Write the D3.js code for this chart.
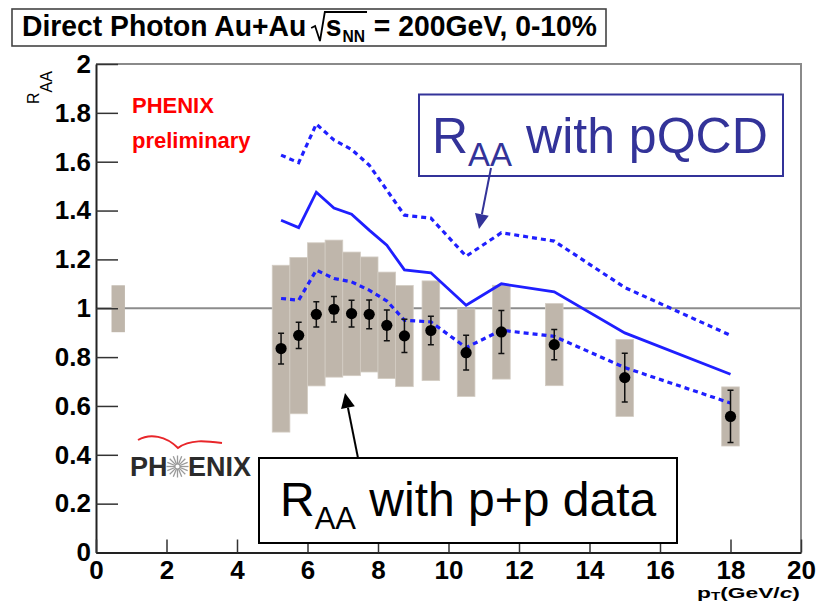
<!DOCTYPE html>
<html>
<head>
<meta charset="utf-8">
<script src="https://cdn.jsdelivr.net/npm/d3@7"></script>
<style>
  html, body { margin: 0; padding: 0; background: #fff; }
  svg { display: block; }
  text { font-family: "Liberation Sans", Arial, Helvetica, sans-serif; }
</style>
</head>
<body>
<svg id="chart" width="827" height="603"></svg>
<script>
// Direct photon R_AA, Au+Au at 200 GeV, 0-10% centrality
const ptBins      = [5.25, 5.75, 6.25, 6.75, 7.25, 7.75, 8.25, 8.75, 9.5, 10.5, 11.5, 13, 15, 18];
const raaValues   = [0.835, 0.889, 0.975, 0.996, 0.978, 0.975, 0.930, 0.887, 0.909, 0.818, 0.903, 0.851, 0.716, 0.557];
const statErrors  = [0.063, 0.054, 0.052, 0.052, 0.055, 0.059, 0.063, 0.068, 0.058, 0.071, 0.088, 0.062, 0.100, 0.107];
const sysLow      = [0.493, 0.568, 0.682, 0.718, 0.724, 0.739, 0.712, 0.679, 0.704, 0.639, 0.710, 0.683, 0.557, 0.436];
const sysHigh     = [1.176, 1.208, 1.268, 1.279, 1.230, 1.210, 1.148, 1.093, 1.112, 0.997, 1.094, 1.019, 0.872, 0.678];
const sysHalfWidth = 0.25;

// R_AA computed with a pQCD reference (central value and scale band)
const pqcdCentral = [1.360, 1.330, 1.475, 1.410, 1.385, 1.320, 1.258, 1.157, 1.145, 1.012, 1.100, 1.067, 0.899, 0.730];
const pqcdUpper   = [1.627, 1.596, 1.754, 1.689, 1.650, 1.586, 1.484, 1.381, 1.369, 1.213, 1.309, 1.275, 1.085, 0.889];
const pqcdLower   = [1.040, 1.033, 1.156, 1.122, 1.108, 1.074, 1.030, 0.951, 0.944, 0.839, 0.910, 0.885, 0.757, 0.612];

// Overall normalisation uncertainty drawn at unity
const normBox = { pt: 0.63, halfWidth: 0.19, low: 0.902, high: 1.094 };

const xTicks = [0, 2, 4, 6, 8, 10, 12, 14, 16, 18, 20];
const yTicks = [0, 0.2, 0.4, 0.6, 0.8, 1, 1.2, 1.4, 1.6, 1.8, 2];

const svg = d3.select("#chart");
const x = d3.scaleLinear().domain([0, 20]).range([96, 801]);
const y = d3.scaleLinear().domain([0, 2]).range([552.5, 64]);

const BLUE = "#1f1fff";
const NAVY = "#333399";
const BOXFILL = "#bfb6ab";

// ---- frame (top / right) ----
svg.append("path")
  .attr("d", `M${x(0)},${y(2)}H${x(20)}V${y(0)}`)
  .attr("fill", "none").attr("stroke", "#8a8a8a").attr("stroke-width", 2);

// ---- reference line at R_AA = 1 ----
svg.append("line")
  .attr("x1", x(0)).attr("x2", x(20))
  .attr("y1", y(1)).attr("y2", y(1))
  .attr("stroke", "#8c8c8c").attr("stroke-width", 2);

// ---- normalisation box ----
svg.append("rect")
  .attr("x", x(normBox.pt - normBox.halfWidth))
  .attr("width", x(normBox.pt + normBox.halfWidth) - x(normBox.pt - normBox.halfWidth))
  .attr("y", y(normBox.high))
  .attr("height", y(normBox.low) - y(normBox.high))
  .attr("fill", BOXFILL);

// ---- systematic boxes ----
svg.append("g").selectAll("rect")
  .data(ptBins)
  .join("rect")
  .attr("x", d => x(d - sysHalfWidth))
  .attr("width", d => x(d + sysHalfWidth) - x(d - sysHalfWidth))
  .attr("y", (d, i) => y(sysHigh[i]))
  .attr("height", (d, i) => y(sysLow[i]) - y(sysHigh[i]))
  .attr("fill", BOXFILL)
  .attr("stroke", "#d3ccc3").attr("stroke-width", 0.8);

// ---- pQCD curves ----
const curve = d3.line().x(d => x(d[0])).y(d => y(d[1]));
const series = [
  { vals: pqcdUpper,   dash: "5,4" },
  { vals: pqcdCentral, dash: null },
  { vals: pqcdLower,   dash: "5,4" }
];
series.forEach(s => {
  svg.append("path")
    .datum(ptBins.map((p, i) => [p, s.vals[i]]))
    .attr("d", curve)
    .attr("fill", "none")
    .attr("stroke", BLUE)
    .attr("stroke-width", s.dash ? 3.2 : 2.8)
    .attr("stroke-dasharray", s.dash);
});

// ---- statistical error bars and points ----
const pts = svg.append("g");
ptBins.forEach((p, i) => {
  const cx = x(p);
  const yt = y(raaValues[i] + statErrors[i]);
  const yb = y(raaValues[i] - statErrors[i]);
  pts.append("path")
    .attr("d", `M${cx},${yt}V${yb}M${cx - 3},${yt}H${cx + 3}M${cx - 3},${yb}H${cx + 3}`)
    .attr("fill", "none").attr("stroke", "#111").attr("stroke-width", 1.5);
});
pts.selectAll("circle")
  .data(ptBins)
  .join("circle")
  .attr("cx", d => x(d))
  .attr("cy", (d, i) => y(raaValues[i]))
  .attr("r", 5.6)
  .attr("fill", "#000");

// ---- axes ----
const fmt = d => d3.format("~g")(d);
const yMinor = d3.range(0, 2.0001, 0.05).filter(v => Math.abs(v * 5 - Math.round(v * 5)) > 1e-6);
const xMinor = d3.range(0, 20.001, 0.5).filter(v => Math.abs(v / 2 - Math.round(v / 2)) > 1e-6);

const gy = svg.append("g").attr("transform", `translate(${x(0)},0)`);
gy.call(d3.axisLeft(y).tickValues(yMinor).tickSize(-11).tickSizeOuter(0).tickFormat(""));
gy.call(d3.axisLeft(y).tickValues(yTicks).tickSize(-22).tickSizeOuter(0).tickPadding(5).tickFormat(fmt));

const gx = svg.append("g").attr("transform", `translate(0,${y(0)})`);
gx.call(d3.axisBottom(x).tickValues(xMinor).tickSize(-6.5).tickSizeOuter(0).tickFormat(""));
gx.call(d3.axisBottom(x).tickValues(xTicks).tickSize(-13).tickSizeOuter(0).tickPadding(8.5).tickFormat(fmt));

[gx, gy].forEach(g => {
  g.selectAll(".domain").attr("stroke", "#222").attr("stroke-width", 2);
  g.selectAll(".tick line").attr("stroke", "#333").attr("stroke-width", 1.5);
  g.selectAll(".tick text")
    .attr("fill", "#000")
    .style("font-size", "26px")
    .style("font-weight", "bold")
    .style("font-family", '"Liberation Sans", Arial, Helvetica, sans-serif');
});

// ---- axis titles ----
const yTitle = svg.append("text")
  .attr("transform", "translate(38.5,104) rotate(-90)")
  .attr("fill", "#000")
  .style("font-size", "16px");
yTitle.append("tspan").text("R");
yTitle.append("tspan").attr("dy", 13).style("font-size", "16px").text("AA");

const xTitle = svg.append("text")
  .attr("x", 697).attr("y", 598.5)
  .attr("fill", "#000")
  .style("font-size", "15px").style("font-weight", "bold");
xTitle.append("tspan").text("p");
xTitle.append("tspan").attr("dy", 2).style("font-size", "10px").text("T");
xTitle.append("tspan").attr("dy", -2).text("(GeV/");
xTitle.append("tspan").style("font-style", "italic").text("c");
xTitle.append("tspan").text(")");
{
  const w = xTitle.node().getComputedTextLength();
  xTitle.attr("transform", `translate(697,0) scale(${103 / w},1) translate(-697,0)`);
}

// ---- title box ----
svg.append("rect")
  .attr("x", 12).attr("y", 9).attr("width", 594).attr("height", 37)
  .attr("fill", "#fff").attr("stroke", "#444").attr("stroke-width", 1.6);

const tg = svg.append("g");
const tStyle = sel => sel.attr("fill", "#000").style("font-weight", "bold").style("font-size", "29px");
const t1 = tg.append("text").attr("x", 0).attr("y", 0).call(tStyle).text("Direct Photon Au+Au");
const w1 = t1.node().getComputedTextLength();
const radX = w1 + 5;
const sX = radX + 15;
const tS = tg.append("text").attr("x", sX).attr("y", 0).call(tStyle).text("s");
const wS = tS.node().getComputedTextLength();
const tNN = tg.append("text").attr("x", sX + wS + 1).attr("y", 6).call(tStyle).style("font-size", "16px").text("NN");
const wNN = tNN.node().getComputedTextLength();
const barEnd = sX + wS + 1 + wNN + 2;
const t3 = tg.append("text").attr("x", barEnd + 7).attr("y", 0).call(tStyle).text("= 200GeV, 0-10%");
const total = barEnd + 7 + t3.node().getComputedTextLength();
tg.append("path")
  .attr("d", `M${radX},-8L${radX + 4},-10L${radX + 9},5L${radX + 14},-24H${barEnd}`)
  .attr("fill", "none").attr("stroke", "#000").attr("stroke-width", 1.8)
  .attr("vector-effect", "non-scaling-stroke");
tg.attr("transform", `translate(22,36) scale(${575 / total},1)`);

// ---- PHENIX preliminary ----
svg.append("text").attr("x", 132).attr("y", 113)
  .attr("fill", "#ff0000").style("font-size", "22px").style("font-weight", "bold").text("PHENIX");
svg.append("text").attr("x", 132).attr("y", 148)
  .attr("fill", "#ff0000").style("font-size", "22px").style("font-weight", "bold").text("preliminary");

// ---- PHENIX logo ----
const logo = svg.append("g");
logo.append("path")
  .attr("d", "M138,440 C150,433 166,436 178,448 C190,439 206,441 222,443")
  .attr("fill", "none").attr("stroke", "#e8262a").attr("stroke-width", 2);
logo.append("text").attr("x", 130).attr("y", 476)
  .attr("fill", "#2b2b2b").style("font-size", "27px").style("font-weight", "bold").text("PH");
logo.append("text").attr("x", 188).attr("y", 476)
  .attr("fill", "#2b2b2b").style("font-size", "27px").style("font-weight", "bold").text("ENIX");
d3.range(16).forEach(k => {
  const a = k * Math.PI / 8;
  logo.append("line")
    .attr("x1", 177.5 + 2 * Math.cos(a)).attr("y1", 466.5 + 2 * Math.sin(a))
    .attr("x2", 177.5 + 11 * Math.cos(a)).attr("y2", 466.5 + 11 * Math.sin(a))
    .attr("stroke", "#9a9a9a").attr("stroke-width", 1.3);
});

// ---- annotations ----
function arrow(x1, y1, x2, y2, color) {
  const ang = Math.atan2(y2 - y1, x2 - x1);
  const L = 15, Wd = 7;
  const bx = x2 - L * Math.cos(ang), by = y2 - L * Math.sin(ang);
  svg.append("line")
    .attr("x1", x1).attr("y1", y1).attr("x2", bx).attr("y2", by)
    .attr("stroke", color).attr("stroke-width", 2);
  svg.append("path")
    .attr("d", `M${x2},${y2}L${bx + Wd * Math.sin(ang)},${by - Wd * Math.cos(ang)}L${bx - Wd * Math.sin(ang)},${by + Wd * Math.cos(ang)}Z`)
    .attr("fill", color);
}

function label(bx, by, bw, bh, tx, ty, size, color, rest) {
  svg.append("rect")
    .attr("x", bx).attr("y", by).attr("width", bw).attr("height", bh)
    .attr("fill", "#fff").attr("stroke", color).attr("stroke-width", 2);
  const t = svg.append("text").attr("x", tx).attr("y", ty)
    .attr("fill", color).style("font-size", size + "px");
  t.append("tspan").text("R");
  t.append("tspan").attr("dy", 13).style("font-size", Math.round(size * 0.65) + "px").text("AA");
  t.append("tspan").attr("dy", -13).text(rest);
}

label(419, 94.5, 364, 81.5, 432, 153, 50, NAVY, " with pQCD");
arrow(491, 168, 479, 229, NAVY);

label(259, 458, 418, 85, 280, 516, 48, "#000", " with p+p data");
arrow(358, 458, 345, 393, "#000");
</script>
</body>
</html>
